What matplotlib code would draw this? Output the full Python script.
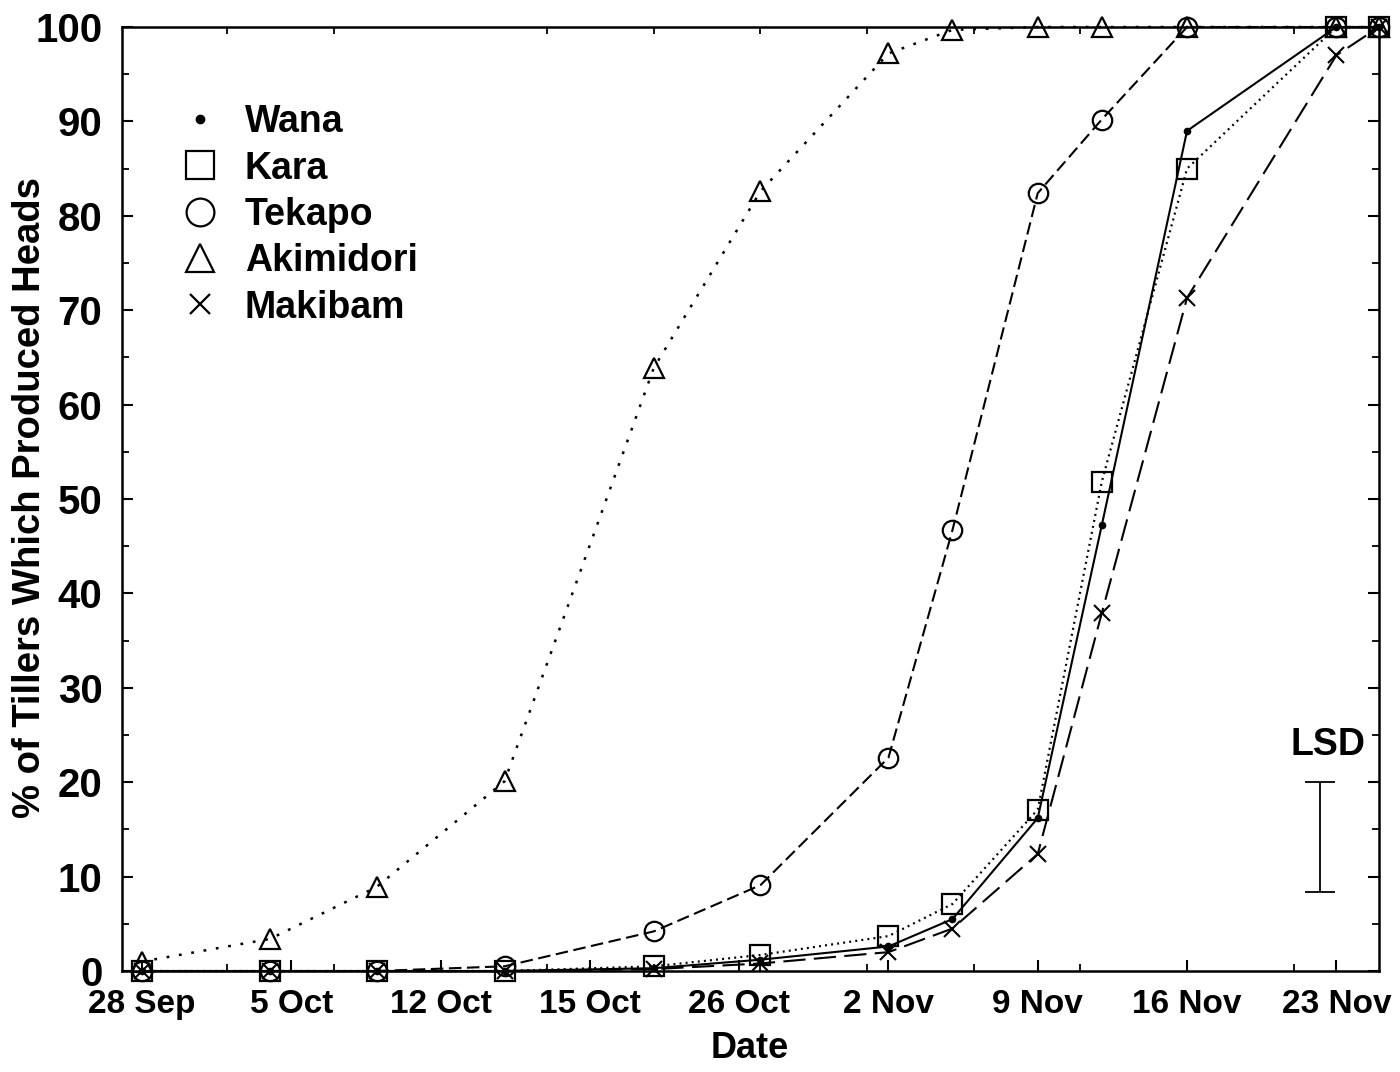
import matplotlib
matplotlib.use('Agg')
import matplotlib.pyplot as plt
from matplotlib.lines import Line2D
from matplotlib.ticker import FixedLocator, MultipleLocator

# ---- data (days after 28 Sep, % tillers headed) ----
days = [0, 6, 11, 17, 24, 29, 35, 38, 42, 45, 49, 56, 58]
wana = [0, 0, 0, 0, 0.3, 1.2, 2.6, 5.5, 16.2, 47.2, 89.0, 100, 100]
kara = [0, 0, 0, 0, 0.5, 1.7, 3.7, 7.1, 17.1, 51.8, 85.0, 100, 100]
tekapo = [0, 0, 0, 0.5, 4.2, 9.1, 22.6, 46.7, 82.4, 90.2, 100, 100, 100]
akimidori = [1.0, 3.4, 8.9, 20.1, 63.9, 82.6, 97.2, 99.7, 100, 100, 100, 100, 100]
makibam = [0, 0, 0, 0, 0.2, 0.8, 2.0, 4.5, 12.4, 37.9, 71.3, 97.0, 100]

tick_days = [0, 7, 14, 21, 28, 35, 42, 49, 56]
tick_labels = ['28 Sep', '5 Oct', '12 Oct', '15 Oct', '26 Oct', '2 Nov',
               '9 Nov', '16 Nov', '23 Nov']
minor_days = [4, 9, 14, 19, 24, 29, 34, 39, 44, 49, 54]

lsd_day = 55.25
lsd_low, lsd_high = 8.4, 20.0

# ---- style ----
plt.rcParams['font.family'] = ['Liberation Sans', 'DejaVu Sans']
plt.rcParams['font.weight'] = 'bold'
plt.rcParams['lines.scale_dashes'] = False

fig = plt.figure(figsize=(14, 10.72), dpi=100)
ax = fig.add_axes([0.0871, 0.0942, 0.8979, 0.8806])

lw = 1.5
ax.plot(days, akimidori, linestyle=(0, (2.0, 7.0)), lw=1.8, color='black',
        marker='^', ms=14, mfc='none', mew=1.6, clip_on=False, zorder=3)
ax.plot(days, tekapo, linestyle=(0, (9, 4)), lw=lw, color='black',
        marker='o', ms=14, mfc='none', mew=1.6, clip_on=False, zorder=3)
ax.plot(days, kara, linestyle=(0, (1.4, 3.0)), lw=1.6, color='black',
        marker='s', ms=14, mfc='none', mew=1.6, clip_on=False, zorder=3)
ax.plot(days, wana, linestyle='-', lw=lw, color='black',
        marker='o', ms=4.5, mfc='black', clip_on=False, zorder=3)
ax.plot(days, makibam, linestyle=(0, (16, 6)), lw=lw, color='black',
        marker='x', ms=11, mew=1.5, clip_on=False, zorder=3)

# LSD bar
ax.errorbar([lsd_day], [(lsd_low + lsd_high) / 2],
            yerr=[[(lsd_high - lsd_low) / 2], [(lsd_high - lsd_low) / 2]],
            fmt='none', ecolor='black', elinewidth=1.3, capsize=11,
            capthick=1.3)
ax.text(lsd_day + 0.35, lsd_high + 2.0, 'LSD', ha='center', va='bottom',
        fontsize=27, fontweight='bold')

ax.set_xlim(-0.94, 58.0)
ax.set_ylim(0, 100)

ax.xaxis.set_major_locator(FixedLocator(tick_days))
ax.set_xticklabels(tick_labels)
ax.xaxis.set_minor_locator(FixedLocator(minor_days))
ax.yaxis.set_major_locator(MultipleLocator(10))
ax.yaxis.set_minor_locator(MultipleLocator(5))

ax.tick_params(axis='both', which='major', direction='in', length=8, width=1.5)
ax.tick_params(axis='x', which='major', labelsize=24, pad=13)
ax.tick_params(axis='y', which='major', labelsize=29, pad=14)
ax.tick_params(axis='both', which='minor', direction='in', length=5,
               width=1.3)
ax.tick_params(axis='y', which='both', right=True)
ax.tick_params(axis='x', which='minor', top=True)
ax.tick_params(axis='x', which='major', top=False)

for sp in ax.spines.values():
    sp.set_linewidth(1.8)

ax.set_xlabel('Date', fontsize=26, fontweight='bold')
ax.xaxis.set_label_coords(0.4996, -0.064)
ax.set_ylabel('% of Tillers Which Produced Heads', fontsize=27.5,
              fontweight='bold')
ax.yaxis.set_label_coords(-0.0732, 0.502)
ax.yaxis.label.set_va('center')

handles = [
    Line2D([], [], linestyle='none', marker='o', ms=6, mfc='black', color='black'),
    Line2D([], [], linestyle='none', marker='s', ms=20, mfc='none', color='black', mew=1.6),
    Line2D([], [], linestyle='none', marker='o', ms=20, mfc='none', color='black', mew=1.6),
    Line2D([], [], linestyle='none', marker='^', ms=20, mfc='none', color='black', mew=1.6),
    Line2D([], [], linestyle='none', marker='x', ms=14, color='black', mew=1.6),
]
labels = ['Wana', 'Kara', 'Tekapo', 'Akimidori', 'Makibam']
leg = ax.legend(handles, labels, loc='upper left', bbox_to_anchor=(0.0322, 0.938),
                frameon=False, fontsize=27, handlelength=1.0, handletextpad=0.7,
                labelspacing=0.275, borderpad=0, borderaxespad=0.5)
for t in leg.get_texts():
    t.set_fontweight('bold')

fig.savefig('out.png', dpi=100)
